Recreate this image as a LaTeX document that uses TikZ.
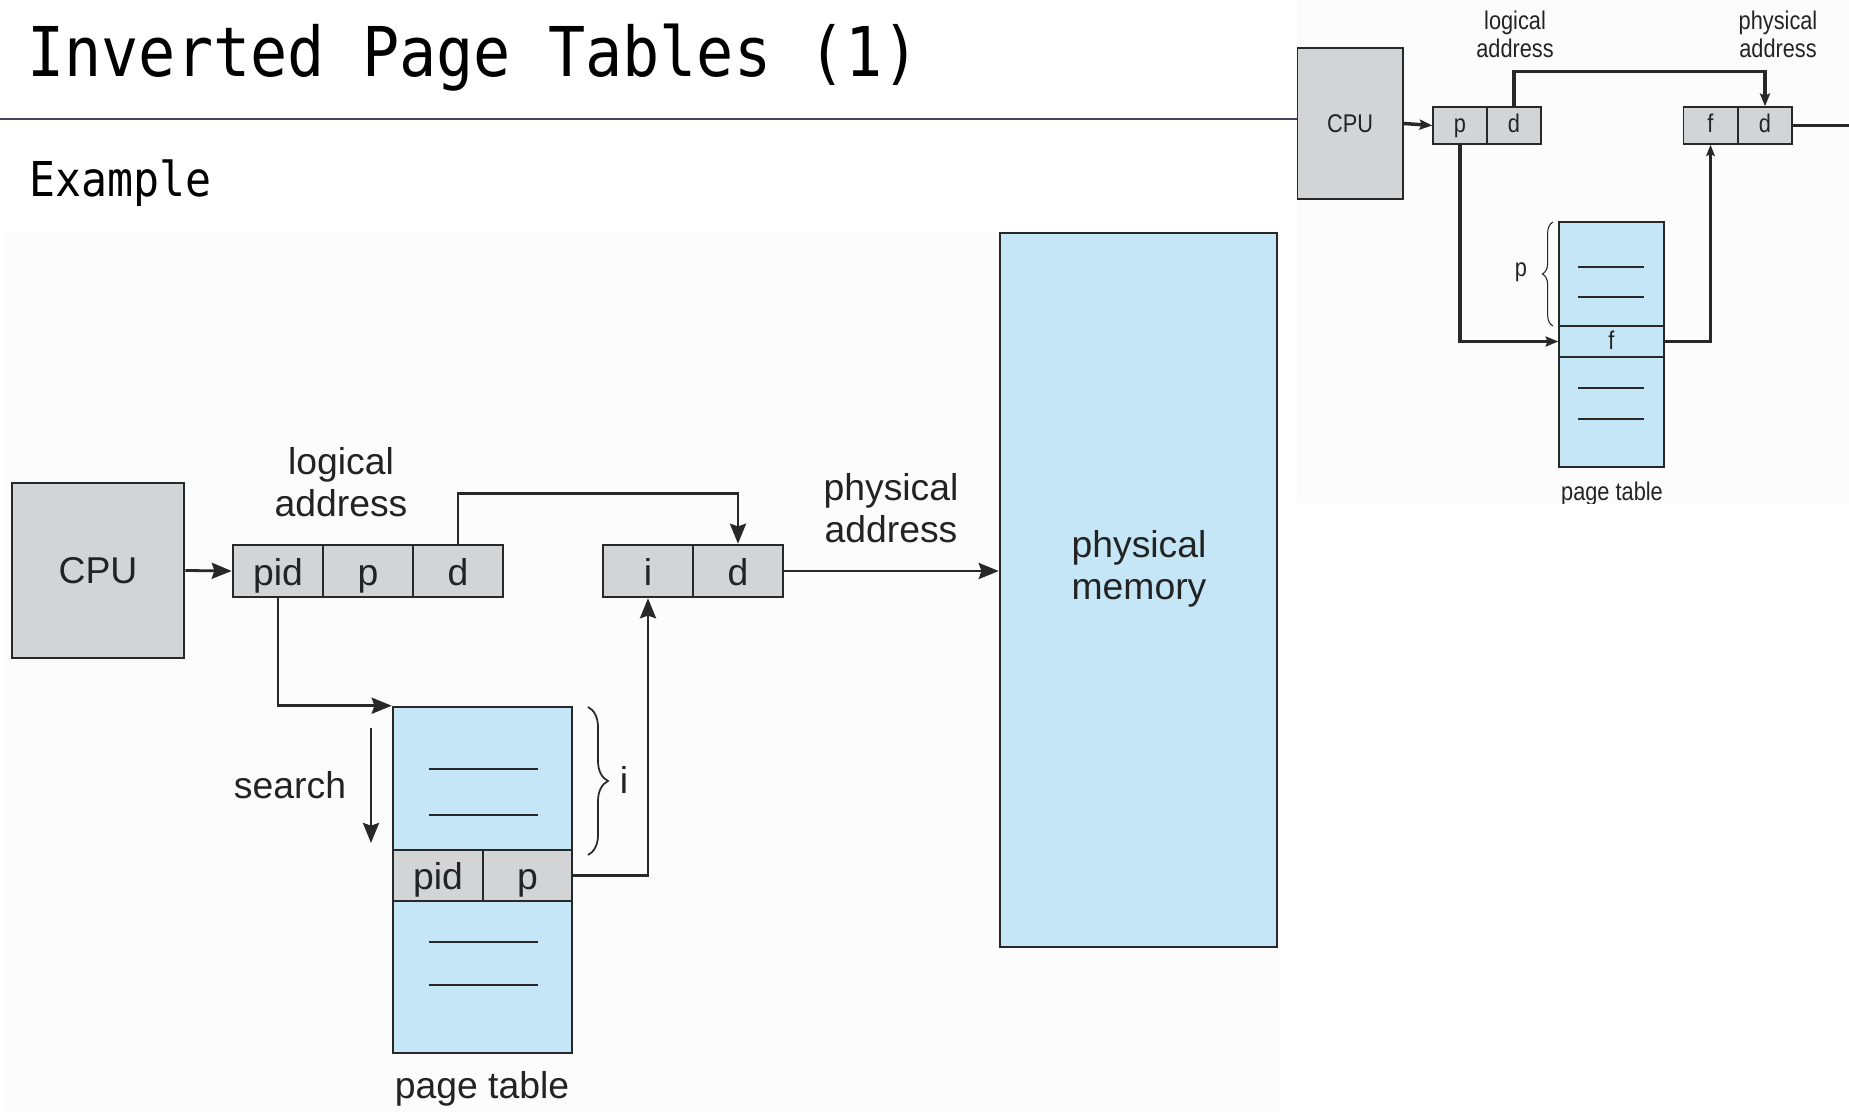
\documentclass[tikz,border=0pt]{standalone}
\usepackage{fontspec}
\usepackage{tikz}
\usetikzlibrary{arrows.meta,decorations.pathreplacing}
\setmainfont{Liberation Sans}
\newfontfamily\slidefont[FakeStretch=0.9]{DejaVu Sans Mono}
\newfontfamily\insetfamily[FakeStretch=0.85]{Liberation Sans}
\newcommand\figtext{\fontsize{28}{31.5}\selectfont}
\newcommand\insettext{\insetfamily\fontsize{19.2}{21}\selectfont}

\definecolor{cellgray}{RGB}{211,212,214}
\definecolor{memblue}{RGB}{197,230,247}
\definecolor{linedark}{RGB}{40,40,40}
\definecolor{textdark}{RGB}{35,35,35}
\definecolor{rulepurple}{RGB}{75,65,95}
\definecolor{figbg}{RGB}{252,252,252}

\begin{document}
\begin{tikzpicture}[x=0.75pt,y=0.75pt,yscale=-1,xscale=1,
  box/.style={draw=linedark,line width=1.9pt,inner sep=0pt,text=textdark,font=\figtext},
  cell/.style={box,fill=cellgray,minimum width=67.5pt,minimum height=39pt,text height=24pt,text depth=3pt},
  arr/.style={draw=linedark,line width=2.1pt,-{Stealth[length=15pt,width=12pt,inset=2pt]}},
  ibox/.style={draw=linedark,line width=1.1pt,inner sep=0pt,text=textdark,font=\insettext},
  icell/.style={ibox,fill=cellgray,minimum width=40.5pt,minimum height=27.75pt,text height=14pt,text depth=2.75pt},
  iarr/.style={draw=linedark,line width=2.6pt,-{Stealth[length=9.5pt,width=7.5pt,inset=1.5pt]}},
  ithin/.style={draw=linedark,line width=1.6pt,-{Stealth[length=8.5pt,width=6.5pt,inset=1.5pt]}},
  label/.style={text=textdark,inner sep=0pt,align=center,font=\figtext},
  ilabel/.style={text=textdark,inner sep=0pt,align=center,font=\insettext}]
\path[use as bounding box] (0,0) rectangle (1849,1112);
\fill[white] (0,0) rectangle (1849,1112);

% Text Node
\node[anchor=base west,inner sep=0pt,font=\slidefont\fontsize{51.5}{60}\selectfont] (title) at (27,77) {Inverted Page Tables (1)};
%Straight Lines
\draw[rulepurple,line width=1.5pt] (0,119) -- (1297,119);
% Text Node
\node[anchor=base west,inner sep=0pt,font=\slidefont\fontsize{36}{40}\selectfont] (example) at (29,197) {Example};

%Shape: Rectangle
\fill[figbg] (6,233) rectangle (1280,1112);

%Shape: Rectangle
\node[box,fill=cellgray,minimum width=129pt,minimum height=131.25pt] (cpu) at (98,570.5) {CPU};
\node[cell] (lpid) at (278,571) {pid};
\node[cell] (lp) at (368,571) {p};
\node[cell] (ld) at (458,571) {d};
\node[cell] (pi) at (648,571) {i};
\node[cell] (pd) at (738,571) {d};
\node[box,fill=memblue,minimum width=207.75pt,minimum height=535.5pt] (mem) at (1138.5,590) {};
\node[box,fill=memblue,minimum width=134.25pt,minimum height=107.25pt] (pt1) at (482.5,778.5) {};
\node[cell,minimum height=38.25pt] (tpid) at (438,875.5) {pid};
\node[cell,minimum height=38.25pt,minimum width=66.75pt] (tp) at (527.5,875.5) {p};
\node[box,fill=memblue,minimum width=134.25pt,minimum height=114pt] (pt2) at (482.5,977) {};

%Straight Lines
\draw[linedark,line width=1.5pt] (429,769) -- (538,769);
\draw[linedark,line width=1.5pt] (429,815) -- (538,815);
\draw[linedark,line width=1.5pt] (429,942) -- (538,942);
\draw[linedark,line width=1.5pt] (429,985) -- (538,985);

% Text Node
\node[label] (loglbl) at (341,482.5) {logical\\address};
\node[label] (physlbl) at (891,508) {physical\\address};
\node[label] (memlbl) at (1139,569) {physical\\memory};
\node[label,anchor=base] (searchlbl) at (290,798) {search};
\node[label,anchor=base] (ptlbl) at (482,1098) {page table};
\node[label] (ilbl) at (624,780) {i};

%Straight Lines
\draw[arr] (cpu.east) -- (lpid.west);
\draw[arr] (ld.north) -- ++(0,-50) -| (pd.north);
\draw[arr] (pd.east) -- (mem.west |- pd.east);
\draw[arr] (lpid.south) |- (pt1.north west);
\draw[arr] (tp.east) -| (pi.south);
\coordinate (s1) at (371,728);
\coordinate (s2) at (371,843);
\draw[arr] (s1) -- (s2);
%Curve Lines
\draw[linedark,line width=1.3pt,decorate,decoration={brace,amplitude=15pt}] (588,707) -- (588,855);

% inset picture
\begin{scope}
\clip (1297,0) rectangle (1849,503);
\fill[figbg] (1297,0) rectangle (1849,503);

%Shape: Rectangle
\node[ibox,fill=cellgray,minimum width=79.5pt,minimum height=113.25pt] (icpu) at (1350,123.5) {CPU};
\node[icell] (ip) at (1460,125.5) {p};
\node[icell] (id) at (1514,125.5) {d};
\node[icell] (if) at (1710.5,125.5) {f};
\node[icell] (ipd) at (1765,125.5) {d};
\node[ibox,fill=memblue,minimum width=78.75pt,minimum height=78pt] (ipt1) at (1611.5,274) {};
\node[ibox,fill=memblue,minimum width=78.75pt,minimum height=23.25pt,text height=14pt,text depth=2pt] (irow) at (1611.5,341.5) {f};
\node[ibox,fill=memblue,minimum width=78.75pt,minimum height=82.5pt] (ipt2) at (1611.5,412) {};

%Straight Lines
\draw[linedark,line width=1.1pt] (1578,267) -- (1644,267);
\draw[linedark,line width=1.1pt] (1578,297) -- (1644,297);
\draw[linedark,line width=1.1pt] (1578,388) -- (1644,388);
\draw[linedark,line width=1.1pt] (1578,419) -- (1644,419);

% Text Node
\node[ilabel] (iloglbl) at (1515,34.5) {logical\\address};
\node[ilabel] (iphyslbl) at (1778,34.5) {physical\\address};
\node[ilabel,anchor=base] (iptlbl) at (1612,500) {page table};
\node[ilabel] (iplbl) at (1521,272) {p};

%Straight Lines
\coordinate (iout) at (1849,125.5);
\draw[iarr] (icpu.east) -- (ip.west);
\draw[iarr] (id.north) -- ++(0,-35) -| (ipd.north);
\draw[iarr] (ip.south) |- (irow.west);
\draw[ithin] (irow.east) -| (if.south);
\draw[linedark,line width=1.6pt] (ipd.east) -- (iout);
%Curve Lines
\draw[linedark,line width=0.8pt,decorate,decoration={brace,amplitude=8pt}] (1553,326) -- (1553,222);
\end{scope}

\end{tikzpicture}
\end{document}
